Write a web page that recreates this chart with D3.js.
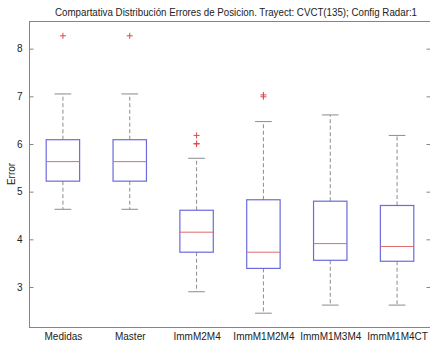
<!DOCTYPE html>
<html><head><meta charset="utf-8">
<script src="https://cdn.jsdelivr.net/npm/d3@7"></script>
<style>body{margin:0;background:#fff;}svg{display:block;font-family:"Liberation Sans",Arial,sans-serif;}</style>
</head><body>
<script>
const categories = ["Medidas","Master","ImmM2M4","ImmM1M2M4","ImmM1M3M4","ImmM1M4CT"];
const whiskerLow  = [4.63, 4.63, 2.90, 2.45, 2.62, 2.62];
const q1          = [5.22, 5.22, 3.73, 3.39, 3.56, 3.54];
const median      = [5.63, 5.63, 4.15, 3.73, 3.91, 3.85];
const q3          = [6.09, 6.09, 4.61, 4.83, 4.80, 4.71];
const whiskerHigh = [7.05, 7.05, 5.70, 6.47, 6.61, 6.18];
const outliers    = [[8.27],[8.27],[6.18,6.01,6.00],[7.03,6.99],[],[]];
const yTicks = [3,4,5,6,7,8];
const title = "Compartativa Distribución Errores de Posicion. Trayect: CVCT(135); Config Radar:1";

const W = 430, H = 345;
const m = {left:29.5, right:430.5, top:21.5, bottom:327.5};
const svg = d3.select("body").append("svg").attr("width",W).attr("height",H);

const x = d3.scaleLinear().domain([0.5, categories.length + 0.5]).range([m.left, m.right]);
const y = d3.scaleLinear().domain([2.15, 8.57]).range([m.bottom, m.top]);
const unit = x(2) - x(1);
const boxW = unit * 0.5, capW = unit * 0.25;

// title
svg.append("text").attr("x",236).attr("y",16).attr("text-anchor","middle")
  .attr("font-size",10).attr("fill","#222")
  .attr("textLength",362).attr("lengthAdjust","spacingAndGlyphs").text(title);

// y label
svg.append("text").attr("transform","translate(15,174) rotate(-90)")
  .attr("text-anchor","middle").attr("font-size",10).attr("fill","#222").text("Error");

const axisColor = "#858585";
// frame
svg.append("rect").attr("x",m.left).attr("y",m.top).attr("width",m.right-m.left).attr("height",m.bottom-m.top)
  .attr("fill","none").attr("stroke",axisColor).attr("stroke-width",1);

// left axis (ticks inward)
const yl = svg.append("g").attr("transform",`translate(${m.left},0)`)
  .call(d3.axisLeft(y).tickValues(yTicks).tickSizeInner(-4).tickSizeOuter(0).tickPadding(7).tickFormat(d3.format("d")));
yl.select(".domain").remove();
yl.selectAll("line").attr("stroke",axisColor);
yl.selectAll("text").attr("font-size",10).attr("fill","#222").attr("font-family","Liberation Sans, Arial, sans-serif");

// right axis ticks
const yr = svg.append("g").attr("transform",`translate(${m.right},0)`)
  .call(d3.axisRight(y).tickValues(yTicks).tickSizeInner(-4).tickSizeOuter(0).tickFormat(""));
yr.select(".domain").remove();
yr.selectAll("line").attr("stroke",axisColor);

// x axis labels
const xa = svg.append("g").attr("transform",`translate(0,${m.bottom})`)
  .call(d3.axisBottom(x).tickValues(d3.range(1,categories.length+1)).tickSize(0).tickPadding(5)
    .tickFormat((d)=>categories[d-1]));
xa.select(".domain").remove();
xa.selectAll("text").attr("font-size",10).attr("fill","#222").attr("font-family","Liberation Sans, Arial, sans-serif");

const g = svg.append("g");
categories.forEach((c,i)=>{
  const cx = x(i+1);
  const wcol = "#8c8c8c";
  // whiskers dashed
  g.append("line").attr("x1",cx).attr("x2",cx).attr("y1",y(q3[i])).attr("y2",y(whiskerHigh[i]))
    .attr("stroke",wcol).attr("stroke-dasharray","4,2.5");
  g.append("line").attr("x1",cx).attr("x2",cx).attr("y1",y(q1[i])).attr("y2",y(whiskerLow[i]))
    .attr("stroke",wcol).attr("stroke-dasharray","4,2.5");
  // caps
  g.append("line").attr("x1",cx-capW/2).attr("x2",cx+capW/2).attr("y1",y(whiskerHigh[i])).attr("y2",y(whiskerHigh[i]))
    .attr("stroke",wcol);
  g.append("line").attr("x1",cx-capW/2).attr("x2",cx+capW/2).attr("y1",y(whiskerLow[i])).attr("y2",y(whiskerLow[i]))
    .attr("stroke",wcol);
  // box
  g.append("rect").attr("x",cx-boxW/2).attr("y",y(q3[i])).attr("width",boxW).attr("height",y(q1[i])-y(q3[i]))
    .attr("fill","none").attr("stroke","#6b6bdc").attr("stroke-width",1.2);
  // median
  g.append("line").attr("x1",cx-boxW/2).attr("x2",cx+boxW/2).attr("y1",y(median[i])).attr("y2",y(median[i]))
    .attr("stroke","#e06a6a");
  // outliers
  outliers[i].forEach(v=>{
    const py = y(v);
    g.append("path").attr("d",`M${cx-3},${py}H${cx+3}M${cx},${py-3}V${py+3}`)
      .attr("stroke","#e04848").attr("fill","none");
  });
});
</script>
</body></html>
